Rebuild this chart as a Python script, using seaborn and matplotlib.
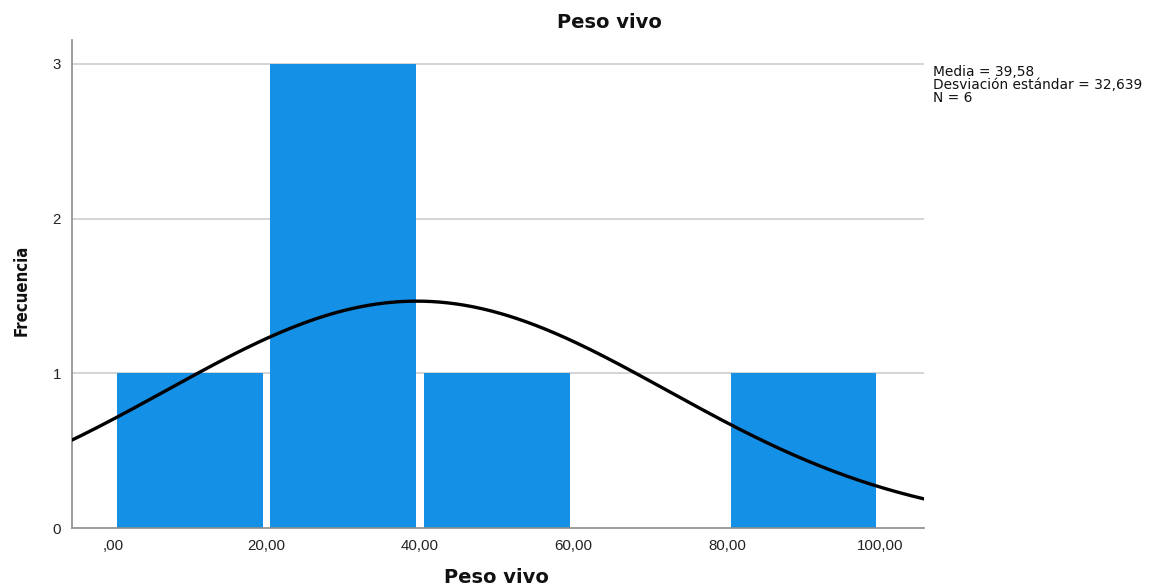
import numpy as np
import pandas as pd
import matplotlib
matplotlib.use("Agg")
import matplotlib.pyplot as plt
import seaborn as sns

# Histogram bins (width 20) and their frequencies
bin_centers = [10, 30, 50, 70, 90]
frequencies = [1, 3, 1, 0, 1]
bin_edges = [0, 20, 40, 60, 80, 100]

# Summary statistics shown beside the plot
media = 39.58
desv = 32.639
n_obs = 6

x_ticks = [0, 20, 40, 60, 80, 100]
x_tick_labels = [",00", "20,00", "40,00", "60,00", "80,00", "100,00"]
y_ticks = [0, 1, 2, 3]

sns.set_style("white")
plt.rcParams['font.family'] = ['Liberation Sans', 'DejaVu Sans']

fig = plt.figure(figsize=(11.5, 5.88), dpi=100)
ax = fig.add_axes([72 / 1150, 0.102, (924 - 72) / 1150, 0.830])

df = pd.DataFrame({"peso": bin_centers, "freq": frequencies})
sns.histplot(data=df, x="peso", weights="freq", bins=bin_edges, shrink=0.95,
             color="#1490E6", alpha=1.0, edgecolor="none", linewidth=0, ax=ax, zorder=2)

# Fitted normal curve scaled to counts
xs = np.linspace(-6, 106, 400)
ys = n_obs * 20 / (desv * np.sqrt(2 * np.pi)) * np.exp(-0.5 * ((xs - media) / desv) ** 2)
sns.lineplot(x=xs, y=ys, color="black", linewidth=2.4, ax=ax, zorder=3)

ax.set_xlim(-5.35, 105.7)
ax.set_ylim(0, 3.155)
ax.set_xticks(x_ticks)
ax.set_xticklabels(x_tick_labels, fontsize=10.8, color="#222222")
ax.set_yticks(y_ticks)
ax.set_yticklabels([str(v) for v in y_ticks], fontsize=10.8, color="#222222")
ax.tick_params(axis="both", length=0)
ax.tick_params(axis="x", pad=8)
ax.tick_params(axis="y", pad=8)

for v in y_ticks[1:]:
    ax.axhline(v, color="#d4d4d4", linewidth=1.4, zorder=1)

for side in ["top", "right"]:
    ax.spines[side].set_visible(False)
for side in ["left", "bottom"]:
    ax.spines[side].set_color("#8c8c8c")
    ax.spines[side].set_linewidth(1.2)

ax.set_xlabel("")
ax.set_ylabel("")

bold_family = ['DejaVu Sans']
fig.text(0.530, 0.962, "Peso vivo", ha="center", va="center", family=bold_family,
         fontsize=14, fontweight="bold", color="#111111")
fig.text(0.432, 0.018, "Peso vivo", ha="center", va="center", family=bold_family,
         fontsize=14, fontweight="bold", color="#111111")

fig.text(0.019, 0.507, "Frecuencia", ha="center", va="center", rotation=90,
         fontsize=12, family=['DejaVu Sans'], fontstretch="condensed",
         fontweight="bold", color="#111111")

stats_lines = [f"Media = {media:.2f}".replace(".", ","),
               f"Desviación estándar = {desv:.3f}".replace(".", ","),
               f"N = {n_obs}"]
for i, line in enumerate(stats_lines):
    fig.text(0.811, 1 - (72 + 13 * i) / 588, line, ha="left", va="center",
             fontsize=9.9, family=['DejaVu Sans'], color="#111111")

fig.savefig("out.png", dpi=100)
